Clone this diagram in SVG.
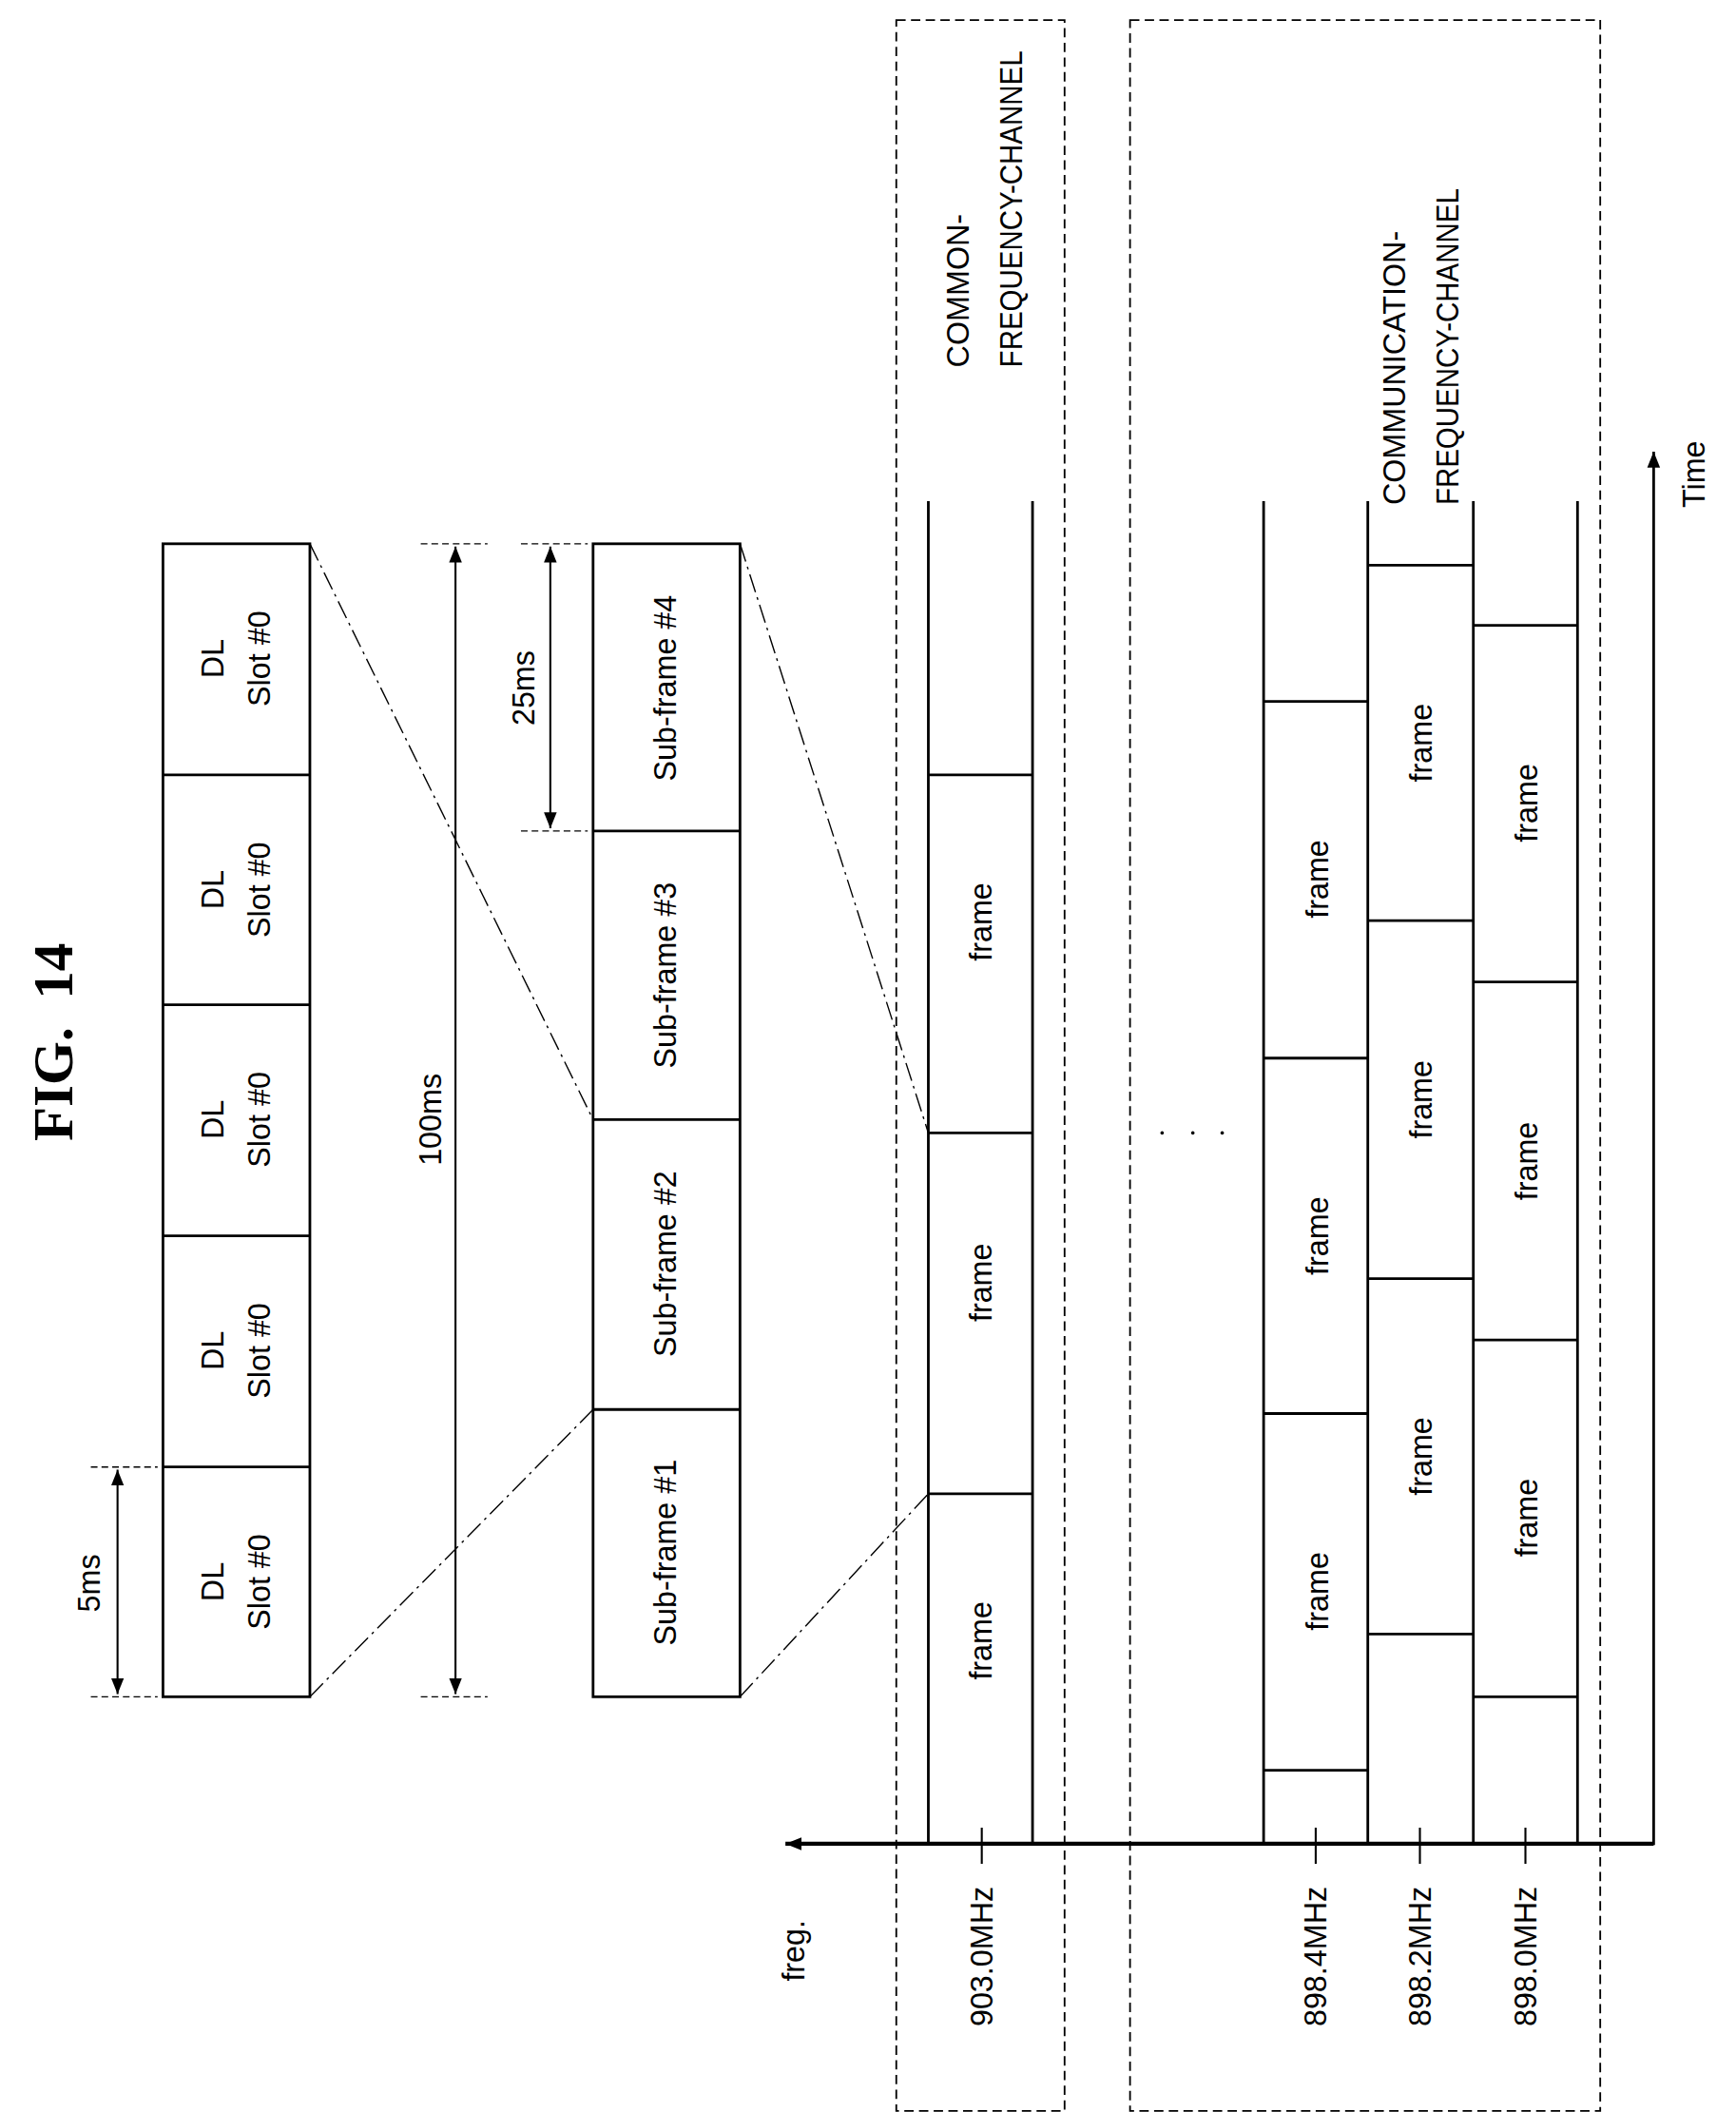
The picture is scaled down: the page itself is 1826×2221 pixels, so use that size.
<svg xmlns="http://www.w3.org/2000/svg" width="1826" height="2221" viewBox="0 0 1826 2221">
<style>
.b{fill:none;stroke:#000;stroke-width:2}
.t{stroke:#000;stroke-width:1.5;fill:none}
.dd{stroke:#000;stroke-width:1;fill:none;stroke-dasharray:14 4 2 4}
.ds{stroke:#000;stroke-width:1.3;fill:none;stroke-dasharray:7 4}
.ex{stroke:#000;stroke-width:1;fill:none;stroke-dasharray:5 3}
text{font-family:"Liberation Sans",Arial,sans-serif;font-size:23px;fill:#000}
.c{text-anchor:middle}
</style>
<defs>
<marker id="a" viewBox="0 0 10 10" refX="10" refY="5" markerWidth="12" markerHeight="12" markerUnits="userSpaceOnUse" orient="auto-start-reverse"><path d="M0,1 L10,5 L0,9 Z"/></marker>
</defs>
<rect width="1826" height="2221" fill="#fff"/>
<g transform="scale(1.405)">
<text transform="translate(54,780) rotate(-90)" class="c" style="font-family:'Liberation Serif',serif;font-weight:bold;font-size:42px" xml:space="preserve">FIG.  14</text>
<g id="slots">
<rect class="b" x="122" y="407" width="110" height="863"/>
<path class="b" d="M122,580H232M122,752H232M122,925H232M122,1098H232"/>
<g class="c">
<text transform="translate(167,493) rotate(-90)">DL</text><text transform="translate(202,493) rotate(-90)">Slot #0</text>
<text transform="translate(167,666) rotate(-90)">DL</text><text transform="translate(202,666) rotate(-90)">Slot #0</text>
<text transform="translate(167,838) rotate(-90)">DL</text><text transform="translate(202,838) rotate(-90)">Slot #0</text>
<text transform="translate(167,1011) rotate(-90)">DL</text><text transform="translate(202,1011) rotate(-90)">Slot #0</text>
<text transform="translate(167,1184) rotate(-90)">DL</text><text transform="translate(202,1184) rotate(-90)">Slot #0</text>
</g>
</g>
<g id="subframes">
<rect class="b" x="444" y="407" width="110" height="863"/>
<path class="b" d="M444,622H554M444,838H554M444,1055H554"/>
<g class="c">
<text transform="translate(506,515) rotate(-90)">Sub-frame #4</text>
<text transform="translate(506,730) rotate(-90)">Sub-frame #3</text>
<text transform="translate(506,946) rotate(-90)">Sub-frame #2</text>
<text transform="translate(506,1162) rotate(-90)">Sub-frame #1</text>
</g>
</g>
<g id="dims">
<path class="ex" d="M68,1098H118M68,1270H118M315,407H365M315,1270H365M390,407H440M390,622H440"/>
<path class="t" d="M88,1100V1268" marker-start="url(#a)" marker-end="url(#a)"/>
<path class="t" d="M341,409V1268" marker-start="url(#a)" marker-end="url(#a)"/>
<path class="t" d="M412,409V620" marker-start="url(#a)" marker-end="url(#a)"/>
<text class="c" transform="translate(75,1185) rotate(-90)">5ms</text>
<text class="c" transform="translate(330,838) rotate(-90)">100ms</text>
<text class="c" transform="translate(400,515) rotate(-90)">25ms</text>
</g>
<g id="connectors">
<path class="dd" d="M232,407L444,838M232,1270L444,1055M554,407L695,848M554,1270L695,1118"/>
</g>
<g id="boxes">
<rect class="ds" x="671" y="15" width="126" height="1565"/>
<rect class="ds" x="846" y="15" width="352" height="1565"/>
<text transform="translate(725,275) rotate(-90)">COMMON-</text>
<text transform="translate(765,275) rotate(-90)" textLength="237" lengthAdjust="spacingAndGlyphs">FREQUENCY-CHANNEL</text>
<text transform="translate(1052,378) rotate(-90)">COMMUNICATION-</text>
<text transform="translate(1092,378) rotate(-90)" textLength="237" lengthAdjust="spacingAndGlyphs">FREQUENCY-CHANNEL</text>
</g>
<g id="common">
<path class="b" d="M695,375V1380M773,375V1380M695,580H773M695,848H773M695,1118H773"/>
<g class="c">
<text transform="translate(742,690) rotate(-90)">frame</text>
<text transform="translate(742,960) rotate(-90)">frame</text>
<text transform="translate(742,1228) rotate(-90)">frame</text>
</g>
</g>
<g id="comm">
<path class="b" d="M946,375V1380M1024,375V1380M1103,375V1380M1181,375V1380"/>
<path class="b" d="M946,525H1024M946,792H1024M946,1058H1024M946,1325H1024M1024,423H1103M1024,689H1103M1024,957H1103M1024,1223H1103M1103,468H1181M1103,735H1181M1103,1003H1181M1103,1270H1181"/>
<g class="c">
<text transform="translate(994,658) rotate(-90)">frame</text>
<text transform="translate(994,925) rotate(-90)">frame</text>
<text transform="translate(994,1191) rotate(-90)">frame</text>
<text transform="translate(1072,556) rotate(-90)">frame</text>
<text transform="translate(1072,823) rotate(-90)">frame</text>
<text transform="translate(1072,1090) rotate(-90)">frame</text>
<text transform="translate(1151,601) rotate(-90)">frame</text>
<text transform="translate(1151,869) rotate(-90)">frame</text>
<text transform="translate(1151,1136) rotate(-90)">frame</text>
</g>
<circle cx="870" cy="848" r="1.3"/><circle cx="893" cy="848" r="1.3"/><circle cx="915" cy="848" r="1.3"/>
</g>
<g id="axes">
<path d="M1238,1380H588" stroke="#000" stroke-width="3" fill="none" marker-end="url(#a)"/>
<path d="M1238,1381V338" stroke="#000" stroke-width="2" fill="none" marker-end="url(#a)"/>
<path class="t" d="M735,1368V1395M985,1368V1395M1063,1368V1395M1142,1368V1395"/>
<text transform="translate(602,1460) rotate(-90)" class="c">freg.</text>
<text transform="translate(1276,355) rotate(-90)" class="c">Time</text>
<text transform="translate(743,1412) rotate(-90)" style="text-anchor:end">903.0MHz</text>
<text transform="translate(993,1412) rotate(-90)" style="text-anchor:end">898.4MHz</text>
<text transform="translate(1071,1412) rotate(-90)" style="text-anchor:end">898.2MHz</text>
<text transform="translate(1150,1412) rotate(-90)" style="text-anchor:end">898.0MHz</text>
</g>
</g>
</svg>
